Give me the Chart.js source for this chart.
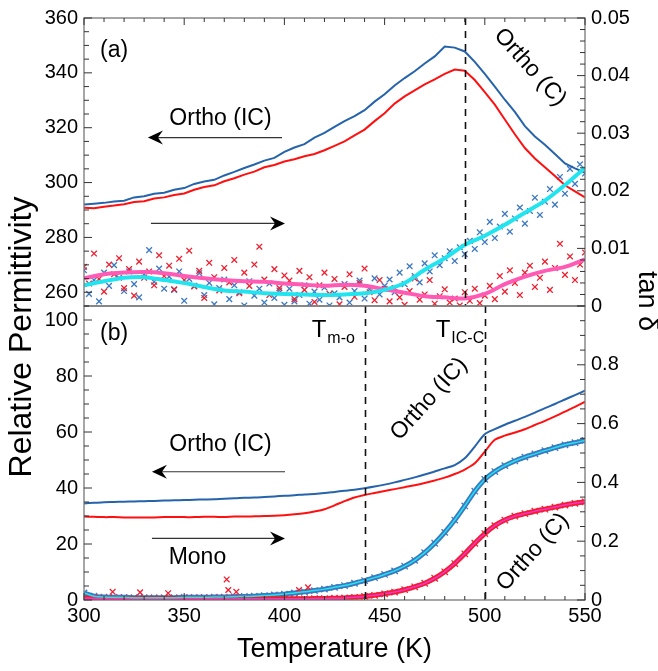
<!DOCTYPE html>
<html>
<head>
<meta charset="utf-8">
<script src="https://cdn.jsdelivr.net/npm/chart.js@4.4.0/dist/chart.umd.min.js"></script>
<style>
  html, body { margin: 0; padding: 0; background: #fff; }
  #wrap { position: relative; width: 658px; height: 671px; }
  #wrap canvas { position: absolute; left: 0; top: 0; }
</style>
</head>
<body>
<div id="wrap">
  <canvas id="chartA" width="658" height="671"></canvas>
  <canvas id="chartB" width="658" height="671"></canvas>
</div>
<script>
// ---- tick labels ----
const tempTicks = [300, 350, 400, 450, 500, 550];
const epsTicksA = [260, 280, 300, 320, 340, 360];
const tanTicksA = [0, 0.01, 0.02, 0.03, 0.04, 0.05];
const epsTicksB = [0, 20, 40, 60, 80, 100];
const tanTicksB = [0, 0.2, 0.4, 0.6, 0.8];

// ---- temperatures ----
const temp5 = [300, 305, 310, 315, 320, 325, 330, 335, 340, 345, 350, 355, 360, 365, 370, 375, 380, 385, 390, 395,
  400, 405, 410, 415, 420, 425, 430, 435, 440, 445, 450, 455, 460, 465, 470, 475, 480, 485, 490, 495,
  500, 505, 510, 515, 520, 525, 530, 535, 540, 545, 550];
const temp10 = [300, 310, 320, 330, 340, 350, 360, 370, 380, 390, 400, 410, 420, 430, 440, 450, 460, 470, 480, 490,
  500, 510, 520, 530, 540, 550];
const tempScat = [300, 302.5, 305, 307.5, 310, 312.5, 315, 317.5, 320, 322.5, 325, 327.5, 330, 332.5, 335, 337.5,
  340, 342.5, 345, 347.5, 350, 352.5, 355, 357.5, 360, 362.5, 365, 367.5, 370, 372.5, 375, 377.5, 380, 382.5, 385,
  387.5, 390, 392.5, 395, 397.5, 400, 402.5, 405, 407.5, 410, 412.5, 415, 417.5, 420, 422.5, 425, 427.5, 430, 432.5,
  435, 437.5, 440, 442.5, 445, 447.5, 450, 452.5, 455, 457.5, 460, 462.5, 465, 467.5, 470, 472.5, 475, 477.5, 480,
  482.5, 485, 487.5, 490, 492.5, 495, 497.5, 500, 502.5, 505, 507.5, 510, 512.5, 515, 517.5, 520, 522.5, 525, 527.5,
  530, 532.5, 535, 537.5, 540, 542.5, 545, 547.5, 550];

// ---- panel (a): permittivity, cooling (blue) and heating (red) ----
const epsCoolA = [292.0, 292.3, 292.6, 293.1, 293.4, 294.6, 295.0, 295.9, 296.3, 297.4, 298.0, 299.5, 300.4, 301.0,
  302.6, 303.9, 305.3, 306.6, 308.0, 309.0, 311.2, 312.8, 314.0, 316.4, 318.1, 320.3, 322.4, 324.2, 326.4, 329.5,
  332.2, 335.4, 338.1, 340.6, 343.4, 346.0, 349.6, 349.2, 347.8, 344.0, 339.6, 335.0, 330.2, 325.8, 320.6, 316.8,
  313.8, 310.4, 307.0, 305.2, 303.6];
const epsHeatA = [290.8, 290.6, 291.2, 291.6, 292.1, 292.9, 293.2, 294.2, 294.6, 295.5, 296.0, 297.4, 298.4, 299.0,
  300.5, 301.6, 302.9, 304.0, 305.6, 306.4, 307.7, 308.5, 309.6, 310.4, 311.8, 313.4, 315.0, 317.2, 319.3, 322.4,
  325.3, 328.8, 331.4, 333.6, 335.8, 337.6, 339.6, 341.2, 340.8, 337.4, 333.0, 328.4, 323.0, 317.6, 312.6, 308.8,
  305.6, 302.4, 299.0, 296.8, 294.6];

// ---- panel (a): tan delta, smoothed and raw ----
const tanCoolFitA = [0.0036, 0.0043, 0.0049, 0.0050, 0.0045, 0.0040, 0.0033, 0.0027, 0.0025, 0.0022, 0.0021, 0.0020,
  0.0019, 0.0020, 0.0022, 0.0028, 0.0040, 0.0063, 0.0083, 0.0106, 0.0122, 0.0141, 0.0162, 0.0183, 0.0210, 0.0240];
const tanHeatFitA = [0.0048, 0.0055, 0.0058, 0.0059, 0.0057, 0.0052, 0.0048, 0.0045, 0.0043, 0.0042, 0.0039, 0.0037,
  0.0035, 0.0037, 0.0035, 0.0029, 0.0023, 0.0017, 0.0015, 0.0013, 0.0021, 0.0038, 0.0051, 0.0061, 0.0068, 0.0081];
const tanCoolA = [0.0062, 0.0021, 0.0045, 0.0008, 0.0058, 0.0035, 0.0071, 0.0049, 0.0026, 0.0060, 0.0038, 0.0015,
  0.0054, 0.0097, 0.0042, 0.0065, 0.0030,
  0.0051, 0.0028, 0.0060, 0.0009, 0.0047, 0.0035, 0.0057, 0.0019, 0.0040, 0.0003, 0.0031, 0.0046, 0.0012, 0.0036,
  0.0024, 0.0001, 0.0043, 0.0018, 0.0030, 0.0006, 0.0039, 0.0014, 0.0027, 0.0002,
  0.0030, 0.0008, 0.0019, 0.0036, 0.0004, 0.0025, 0.0011, 0.0032, 0.0001, 0.0022, 0.0015, 0.0038, 0.0006, 0.0026,
  0.0044, 0.0013, 0.0029, 0.0048, 0.0020, 0.0035,
  0.0046, 0.0024, 0.0058, 0.0038, 0.0069, 0.0052, 0.0041, 0.0074, 0.0060, 0.0088, 0.0071, 0.0083, 0.0095, 0.0078,
  0.0102, 0.0090, 0.0113, 0.0099, 0.0128, 0.0111,
  0.0146, 0.0118, 0.0138, 0.0160, 0.0129, 0.0152, 0.0171, 0.0143, 0.0165, 0.0188, 0.0158, 0.0181, 0.0203, 0.0176,
  0.0224, 0.0195, 0.0238, 0.0212, 0.0246, 0.0230];
const tanHeatA = [0.0068, 0.0039, 0.0091, 0.0047, 0.0025, 0.0072, 0.0055, 0.0083, 0.0031, 0.0064, 0.0018, 0.0077,
  0.0049, 0.0060, 0.0036, 0.0088, 0.0052,
  0.0070, 0.0029, 0.0082, 0.0045, 0.0096, 0.0034, 0.0061, 0.0014, 0.0075, 0.0050, 0.0027, 0.0066, 0.0041, 0.0080,
  0.0022, 0.0058, 0.0035, 0.0072, 0.0103, 0.0046, 0.0019, 0.0064, 0.0031, 0.0053,
  0.0044, 0.0012, 0.0061, 0.0028, 0.0050, 0.0007, 0.0036, 0.0058, 0.0021, 0.0047, 0.0003, 0.0033, 0.0055, 0.0016,
  0.0040, 0.0065, 0.0024, 0.0010, 0.0045, 0.0030,
  0.0008, 0.0031, 0.0015, 0.0002, 0.0026, 0.0048, 0.0011, 0.0020, 0.0045, 0.0004, 0.0017, 0.0029, 0.0006, 0.0013,
  0.0001, 0.0024, 0.0009, 0.0030, 0.0005, 0.0018,
  0.0035, 0.0012, 0.0052, 0.0025, 0.0062, 0.0040, 0.0019, 0.0058, 0.0070, 0.0033, 0.0049, 0.0077, 0.0028, 0.0066,
  0.0108, 0.0054, 0.0086, 0.0045, 0.0072, 0.0093];

// ---- panel (b): permittivity ----
const epsCoolB = [34.5, 34.7, 34.9, 35.0, 35.1, 35.2, 35.3, 35.4, 35.5, 35.6, 35.7, 35.8, 35.9, 36.0, 36.2, 36.3,
  36.5, 36.6, 36.8, 37.0, 37.2, 37.4, 37.7, 37.9, 38.2, 38.6, 39.0, 39.4, 39.9, 40.5, 41.2, 42.0, 42.9, 43.8, 44.8,
  45.9, 47.0, 48.2, 50.6, 54.8, 59.2, 61.0, 62.6, 64.0, 65.4, 66.9, 68.5, 70.0, 71.6, 73.2, 74.8];
const epsHeatB = [29.8, 29.7, 29.6, 29.6, 29.5, 29.5, 29.5, 29.5, 29.6, 29.6, 29.6, 29.6, 29.7, 29.7, 29.6, 29.8,
  29.8, 29.9, 30.0, 30.1, 30.3, 30.6, 31.0, 31.6, 32.4, 33.8, 35.3, 36.6, 37.5, 38.2, 38.9, 39.6, 40.3, 41.0, 41.8,
  42.7, 43.7, 45.0, 46.6, 48.8, 53.0, 57.2, 58.7, 59.8, 61.0, 62.5, 64.0, 65.6, 67.3, 69.0, 70.8];

// ---- panel (b): tan delta ----
const tanCoolB = [0.024, 0.013, 0.010, 0.009, 0.009, 0.008, 0.008, 0.008, 0.008, 0.008, 0.009, 0.009, 0.009, 0.010,
  0.010, 0.011, 0.012, 0.013, 0.015, 0.017, 0.020, 0.024, 0.028, 0.032, 0.037, 0.043, 0.049, 0.057, 0.066, 0.076,
  0.087, 0.099, 0.115, 0.135, 0.161, 0.193, 0.230, 0.272, 0.320, 0.370, 0.410, 0.437, 0.457, 0.473, 0.486, 0.497,
  0.508, 0.518, 0.528, 0.535, 0.543];
const tanHeatB = [0.006, 0.006, 0.005, 0.005, 0.005, 0.005, 0.005, 0.005, 0.005, 0.005, 0.005, 0.005, 0.005, 0.005,
  0.005, 0.005, 0.004, 0.004, 0.004, 0.004, 0.004, 0.004, 0.004, 0.005, 0.005, 0.006, 0.007, 0.009, 0.012, 0.016,
  0.021, 0.027, 0.035, 0.045, 0.057, 0.074, 0.096, 0.124, 0.157, 0.193, 0.226, 0.253, 0.272, 0.285, 0.294, 0.302,
  0.309, 0.316, 0.323, 0.329, 0.334];
const heatOutT = [314.3, 328, 342, 371.2, 372, 376, 407.3, 411.8];
const heatOutTan = [0.028, 0.026, 0.023, 0.070, 0.034, 0.028, 0.034, 0.043];

// transition temperatures
const transA = [490];
const transB = [440, 500];

const FONT = '"Liberation Sans", Arial, Helvetica, sans-serif';
Chart.defaults.font.family = FONT;
Chart.defaults.color = '#000';

const BLUE = '#2563ab', RED = '#ff1010', CYAN = '#22e4ee', PINK = '#ff5ab4';
const MBLUE = '#3d78c2', MRED = '#ee2030';

function pts(xs, ys) { return xs.map((x, i) => ({ x: x, y: ys[i] })); }

function marks(scale, minor, major) {
  const out = [];
  const k0 = Math.ceil(scale.min / minor - 1e-6), k1 = Math.floor(scale.max / minor + 1e-6);
  for (let k = k0; k <= k1; k++) {
    const v = k * minor;
    const isMajor = Math.abs(v / major - Math.round(v / major)) < 1e-6;
    out.push([scale.getPixelForValue(v), isMajor]);
  }
  return out;
}

function seg(ctx, x1, y1, x2, y2) { ctx.beginPath(); ctx.moveTo(x1, y1); ctx.lineTo(x2, y2); ctx.stroke(); }

// frame, inward ticks, dashed lines, labels and arrows
const decor = {
  id: 'decor',
  afterDatasetsDraw(chart, args, o) {
    const ctx = chart.ctx, a = chart.chartArea;
    const xs = chart.scales.x, yl = chart.scales.yL, yr = chart.scales.yR;
    ctx.save();
    ctx.strokeStyle = '#111';
    ctx.lineWidth = 1.6;
    ctx.setLineDash([7, 6]);
    o.dashed.forEach(t => {
      const px = Math.round(xs.getPixelForValue(t)) + 0.5;
      seg(ctx, px, a.top, px, a.bottom);
    });
    ctx.setLineDash([]);
    ctx.strokeStyle = '#777';
    ctx.lineWidth = 1.3;
    ctx.strokeRect(a.left, a.top, a.right - a.left, a.bottom - a.top);
    ctx.strokeStyle = '#333';
    ctx.lineWidth = 1;
    marks(xs, 10, 50).forEach(([p, mj]) => {
      const len = mj ? 7 : 4;
      if (o.xTop) seg(ctx, p, a.top, p, a.top + len);
      if (o.xBottom) seg(ctx, p, a.bottom, p, a.bottom - len);
    });
    marks(yl, o.lMinor, o.lMajor).forEach(([p, mj]) => seg(ctx, a.left, p, a.left + (mj ? 8 : 5), p));
    marks(yr, o.rMinor, o.rMajor).forEach(([p, mj]) => seg(ctx, a.right, p, a.right - (mj ? 8 : 5), p));
    ctx.restore();
  },
  afterDraw(chart, args, o) {
    const ctx = chart.ctx;
    const xs = chart.scales.x, yl = chart.scales.yL;
    ctx.save();
    ctx.fillStyle = '#000';
    o.arrows.forEach(ar => {
      const x1 = xs.getPixelForValue(ar.from), x2 = xs.getPixelForValue(ar.to), y = yl.getPixelForValue(ar.y);
      const dir = Math.sign(x2 - x1);
      ctx.strokeStyle = '#333';
      ctx.lineWidth = 1.2;
      seg(ctx, x1, y, x2 - dir * 8, y);
      ctx.beginPath();
      ctx.moveTo(x2, y);
      ctx.lineTo(x2 - dir * 15, y - 7);
      ctx.lineTo(x2 - dir * 10, y);
      ctx.lineTo(x2 - dir * 15, y + 7);
      ctx.closePath();
      ctx.fill();
    });
    o.texts.forEach(t => {
      const px = t.px !== undefined ? t.px : xs.getPixelForValue(t.x);
      const py = t.py !== undefined ? t.py : yl.getPixelForValue(t.y);
      ctx.save();
      ctx.translate(px, py);
      ctx.rotate((t.rot || 0) * Math.PI / 180);
      ctx.font = t.size + 'px ' + FONT;
      ctx.textAlign = t.align || 'center';
      ctx.textBaseline = t.base || 'middle';
      ctx.fillText(t.text, 0, 0);
      if (t.sub) {
        const w = ctx.measureText(t.text).width;
        ctx.font = t.subSize + 'px ' + FONT;
        ctx.textAlign = 'left';
        ctx.fillText(t.sub, w + 1, 6);
      }
      ctx.restore();
    });
    ctx.restore();
  }
};

function yAxis(pos, min, max, ticks, width) {
  return {
    type: 'linear', axis: 'y', position: pos, min: min, max: max,
    grid: { display: false, drawTicks: false },
    border: { display: false },
    ticks: { padding: 6, font: { size: 20 }, callback: v => String(v) },
    afterBuildTicks: s => { s.ticks = ticks.map(v => ({ value: v })); },
    afterFit: s => { s.width = width; }
  };
}

const scatterStyle = (color, r) => ({
  showLine: false, pointStyle: 'crossRot', pointRadius: r || 4,
  pointBorderColor: color, pointBorderWidth: 1.3, pointBackgroundColor: color
});

new Chart(document.getElementById('chartA'), {
  type: 'scatter',
  data: {
    datasets: [
      { data: pts(temp10, tanCoolFitA), yAxisID: 'yR', showLine: true, borderColor: CYAN, borderWidth: 4, pointRadius: 0, tension: 0.3 },
      { data: pts(temp10, tanHeatFitA), yAxisID: 'yR', showLine: true, borderColor: PINK, borderWidth: 4, pointRadius: 0, tension: 0.3 },
      { data: pts(temp5, epsCoolA), yAxisID: 'yL', showLine: true, borderColor: BLUE, borderWidth: 2, pointRadius: 0 },
      { data: pts(temp5, epsHeatA), yAxisID: 'yL', showLine: true, borderColor: RED, borderWidth: 2, pointRadius: 0 },
      Object.assign({ data: pts(tempScat, tanHeatA), yAxisID: 'yR' }, scatterStyle(MRED)),
      Object.assign({ data: pts(tempScat, tanCoolA), yAxisID: 'yR' }, scatterStyle(MBLUE))
    ]
  },
  options: {
    responsive: false,
    animation: false,
    layout: { padding: { top: 15, bottom: 365, left: 0, right: 0 } },
    plugins: {
      legend: { display: false },
      tooltip: { enabled: false },
      decor: {
        dashed: transA, xTop: true, xBottom: false,
        lMinor: 5, lMajor: 20, rMinor: 0.002, rMajor: 0.01,
        arrows: [{ from: 398.8, to: 331.9, y: 316.4 }, { from: 333.4, to: 400.3, y: 285.1 }],
        texts: [
          { text: '(a)', x: 308, y: 348, size: 23, align: 'left' },
          { text: 'Ortho (IC)', x: 368.1, y: 323.4, size: 23 },
          { text: 'Ortho (C)', x: 522.6, y: 342, size: 23, rot: 48 }
        ]
      }
    },
    scales: {
      x: { type: 'linear', min: 300, max: 550, display: false },
      yL: yAxis('left', 255, 360, epsTicksA, 84),
      yR: yAxis('right', 0, 0.05, tanTicksA, 73)
    }
  },
  plugins: [decor]
});

new Chart(document.getElementById('chartB'), {
  type: 'scatter',
  data: {
    datasets: [
      { data: pts(temp5, tanCoolB), yAxisID: 'yR', showLine: true, borderColor: CYAN, borderWidth: 1.5, pointRadius: 0, tension: 0.3 },
      { data: pts(temp5, tanHeatB), yAxisID: 'yR', showLine: true, borderColor: '#ff30c8', borderWidth: 1.5, pointRadius: 0, tension: 0.3 },
      { data: pts(temp5, epsCoolB), yAxisID: 'yL', showLine: true, borderColor: BLUE, borderWidth: 2, pointRadius: 0, tension: 0.3 },
      { data: pts(temp5, epsHeatB), yAxisID: 'yL', showLine: true, borderColor: RED, borderWidth: 2, pointRadius: 0, tension: 0.3 },
      Object.assign({ data: pts(heatOutT, heatOutTan), yAxisID: 'yR' }, scatterStyle(MRED)),
      Object.assign({ data: pts(temp5, tanHeatB), yAxisID: 'yR' }, scatterStyle(MRED, 4.5),
        { showLine: true, borderColor: MRED, borderWidth: 5, tension: 0.3 }),
      Object.assign({ data: pts(temp5, tanCoolB), yAxisID: 'yR' }, scatterStyle(MBLUE, 4.5),
        { showLine: true, borderColor: MBLUE, borderWidth: 5, tension: 0.3 })
    ]
  },
  options: {
    responsive: false,
    animation: false,
    layout: { padding: { top: 306, bottom: 0, left: 0, right: 0 } },
    plugins: {
      legend: { display: false },
      tooltip: { enabled: false },
      decor: {
        dashed: transB, xTop: false, xBottom: true,
        lMinor: 5, lMajor: 20, rMinor: 0.05, rMajor: 0.2,
        arrows: [{ from: 400.3, to: 333.9, y: 45.8 }, { from: 333.9, to: 400.3, y: 22.0 }],
        texts: [
          { text: '(b)', x: 308, y: 95, size: 23, align: 'left' },
          { text: 'Ortho (IC)', x: 368.1, y: 55.4, size: 23 },
          { text: 'Mono', x: 356.6, y: 15.2, size: 23 },
          { text: 'T', sub: 'm-o', subSize: 16, x: 413.6, y: 94, size: 24, align: 'left', base: 'alphabetic' },
          { text: 'T', sub: 'IC-C', subSize: 16, x: 475.5, y: 94, size: 24, align: 'left', base: 'alphabetic' },
          { text: 'Ortho (IC)', x: 472.2, y: 71.8, size: 23, rot: -48 },
          { text: 'Ortho (C)', x: 524, y: 17.1, size: 23, rot: -48 },
          { text: 'Relative Permittivity', px: 22, py: 337, size: 32, rot: -90 },
          { text: 'tan δ', px: 646, py: 301, size: 27, rot: 90 }
        ]
      }
    },
    scales: {
      x: {
        type: 'linear', position: 'bottom', min: 300, max: 550,
        grid: { display: false, drawTicks: false },
        border: { display: false },
        ticks: { padding: 4, font: { size: 20 } },
        afterBuildTicks: s => { s.ticks = tempTicks.map(v => ({ value: v })); },
        afterFit: s => { s.height = 71; },
        title: { display: true, text: 'Temperature (K)', font: { size: 27 }, padding: { top: 0, bottom: 5 } }
      },
      yL: yAxis('left', 0, 105, epsTicksB, 84),
      yR: yAxis('right', 0, 1.0, tanTicksB, 73)
    }
  },
  plugins: [decor]
});
</script>
</body>
</html>
